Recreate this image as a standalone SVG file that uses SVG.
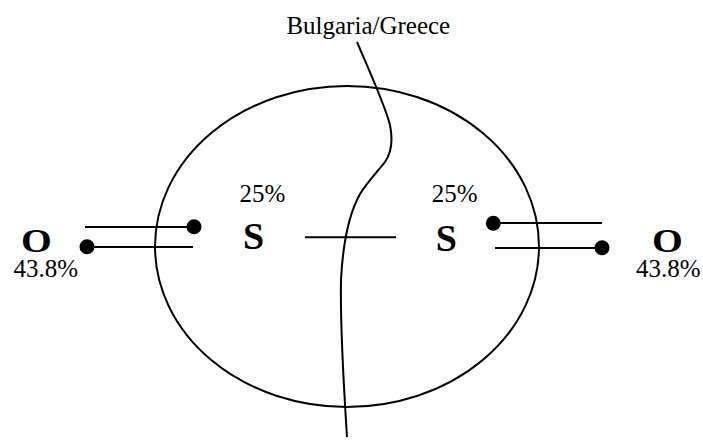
<svg xmlns="http://www.w3.org/2000/svg" width="703" height="444" viewBox="0 0 703 444">
<style>
.ln{stroke:#000;stroke-width:2;fill:none}
.dot{fill:#000}
.t{font-family:"Liberation Serif","Times New Roman",Tinos,serif;fill:#000}
.b{font-weight:bold}
</style>
<rect width="703" height="444" fill="#fff"/>
<g id="region">
<ellipse class="ln" cx="347" cy="246.5" rx="192" ry="160.5"/>
</g>
<g id="border">
<path class="ln" d="M 357 42 C 368 68, 385 105, 390 125 C 393 140, 392 152, 385 162 C 377 172, 366 184, 360 194 C 350 212, 343 240, 341 280 C 340 330, 344 390, 347 437"/>
<text class="t" x="368.3" y="34" font-size="25" text-anchor="middle">Bulgaria/Greece</text>
</g>
<g id="O-left">
<text class="t b" font-size="33" text-anchor="middle" transform="translate(36.5,252) scale(1.2,1)">O</text>
<text class="t" x="45.8" y="277" font-size="25" text-anchor="middle">43.8%</text>
</g>
<g id="S-left">
<text class="t b" x="253.5" y="249" font-size="38" text-anchor="middle">S</text>
<text class="t" x="262.5" y="202" font-size="25" text-anchor="middle">25%</text>
</g>
<g id="S-right">
<text class="t b" x="446.3" y="251" font-size="38" text-anchor="middle">S</text>
<text class="t" x="454.7" y="201.7" font-size="25" text-anchor="middle">25%</text>
</g>
<g id="O-right">
<text class="t b" font-size="33" text-anchor="middle" transform="translate(667.3,252) scale(1.2,1)">O</text>
<text class="t" x="668.3" y="277" font-size="25" text-anchor="middle">43.8%</text>
</g>
<g id="connectors">
<line class="ln" x1="85" y1="227" x2="194" y2="227"/>
<circle class="dot" cx="194" cy="226.7" r="7.5"/>
<line class="ln" x1="87" y1="247" x2="193" y2="247"/>
<circle class="dot" cx="87" cy="246.7" r="7.5"/>
<line class="ln" x1="493" y1="223" x2="602" y2="223"/>
<circle class="dot" cx="493.3" cy="223.3" r="7.5"/>
<line class="ln" x1="495" y1="248" x2="602" y2="248"/>
<circle class="dot" cx="602" cy="247.7" r="7.5"/>
<line class="ln" x1="305" y1="237.3" x2="396" y2="237.3"/>
</g>
</svg>
